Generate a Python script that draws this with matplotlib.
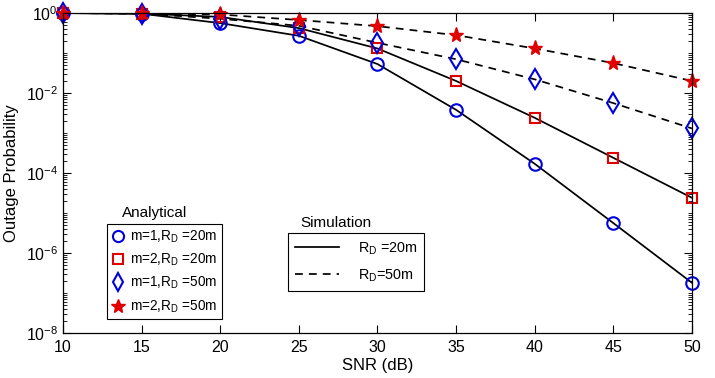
import numpy as np
import matplotlib
matplotlib.use('Agg')
import matplotlib.pyplot as plt
from matplotlib.lines import Line2D
from matplotlib.ticker import LogLocator, NullFormatter, FixedLocator

plt.rcParams['font.family'] = ['Liberation Sans', 'DejaVu Sans']
plt.rcParams['mathtext.fontset'] = 'custom'
plt.rcParams['mathtext.rm'] = 'Liberation Sans'
plt.rcParams['mathtext.default'] = 'regular'

# values
snr = [10, 15, 20, 25, 30, 35, 40, 45, 50]
m1_r20 = [1.0, 0.96, 0.56, 0.27, 0.053, 3.8e-3, 1.7e-4, 5.6e-6, 1.8e-7]
m2_r20 = [1.0, 0.97, 0.80, 0.42, 0.13, 0.02, 2.4e-3, 2.4e-4, 2.4e-5]
m1_r50 = [1.0, 0.97, 0.72, 0.48, 0.18, 0.07, 0.022, 5.6e-3, 1.3e-3]
m2_r50 = [1.0, 0.98, 0.92, 0.67, 0.47, 0.28, 0.13, 0.056, 0.02]

blue = '#0000dd'
red = '#e00000'

fig = plt.figure(figsize=(7.15, 3.78), dpi=100)
ax = fig.add_axes([0.0881, 0.119, 0.8797, 0.8465])

dash = (0, (4.5, 3.5))
lw = 1.25
ax.semilogy(snr, m1_r20, '-', color='k', lw=lw)
ax.semilogy(snr, m2_r20, '-', color='k', lw=lw)
ax.semilogy(snr, m1_r50, linestyle=dash, color='k', lw=lw)
ax.semilogy(snr, m2_r50, linestyle=dash, color='k', lw=lw)

ax.semilogy(snr, m1_r20, 'o', mfc='none', mec=blue, ms=9, mew=1.5, ls='none', clip_on=False)
ax.semilogy(snr, m2_r20, 's', mfc='none', mec=red, ms=7, mew=1.5, ls='none', clip_on=False)
ax.semilogy(snr, m1_r50, 'd', mfc='none', mec=blue, ms=10, mew=1.5, ls='none', clip_on=False)
ax.semilogy(snr, m2_r50, '*', mfc=red, mec=red, ms=11, mew=1.0, ls='none', clip_on=False)

ax.set_xlim(10, 50)
ax.set_ylim(1e-8, 1)
ax.set_xticks(snr)
ax.yaxis.set_major_locator(FixedLocator([1e-8, 1e-6, 1e-4, 1e-2, 1]))
ax.yaxis.set_minor_locator(LogLocator(base=10, subs=np.arange(1, 10), numticks=20))
ax.yaxis.set_minor_formatter(NullFormatter())
ax.tick_params(which='both', direction='in', top=True, right=True, labelsize=11.5)
ax.tick_params(which='major', length=6, width=0.8)
ax.tick_params(which='minor', length=3, width=0.6)
ax.tick_params(axis='x', pad=5)
for s in ax.spines.values():
    s.set_linewidth(0.9)

ax.set_xlabel('SNR (dB)', fontsize=12, labelpad=2)
ax.set_ylabel('Outage Probability', fontsize=12, labelpad=5)

h1 = [
    Line2D([], [], marker='o', ls='none', mfc='none', mec=blue, ms=8, mew=1.5),
    Line2D([], [], marker='s', ls='none', mfc='none', mec=red, ms=6.5, mew=1.5),
    Line2D([], [], marker='d', ls='none', mfc='none', mec=blue, ms=9, mew=1.5),
    Line2D([], [], marker='*', ls='none', mfc=red, mec=red, ms=10, mew=1.0),
]
l1 = ['m=1,R$_{\\mathregular{D}}$ =20m', 'm=2,R$_{\\mathregular{D}}$ =20m',
      'm=1,R$_{\\mathregular{D}}$ =50m', 'm=2,R$_{\\mathregular{D}}$ =50m']
leg1 = ax.legend(h1, l1, loc='upper left', bbox_to_anchor=(0.070, 0.341),
                 borderaxespad=0, fontsize=9.8, handlelength=0.9,
                 handletextpad=0.45, labelspacing=0.5, borderpad=0.35,
                 fancybox=False, edgecolor='k', framealpha=1)
leg1.get_frame().set_linewidth(0.8)
ax.add_artist(leg1)

h2 = [Line2D([], [], color='k', lw=lw, ls='-'),
      Line2D([], [], color='k', lw=lw, ls=dash)]
l2 = ['R$_{\\mathregular{D}}$ =20m', 'R$_{\\mathregular{D}}$=50m']
leg2 = ax.legend(h2, l2, loc='upper left', bbox_to_anchor=(0.358, 0.3125),
                 borderaxespad=0, fontsize=10.4, handlelength=3.0,
                 handletextpad=1.3, labelspacing=0.75, borderpad=0.5,
                 fancybox=False, edgecolor='k', framealpha=1)
leg2.get_frame().set_linewidth(0.8)

fig.text(155 / 715, 1 - 213 / 378, 'Analytical', ha='center', va='center', fontsize=11)
fig.text(336 / 715, 1 - 223 / 378, 'Simulation', ha='center', va='center', fontsize=11)

fig.savefig('out.png', dpi=100)
